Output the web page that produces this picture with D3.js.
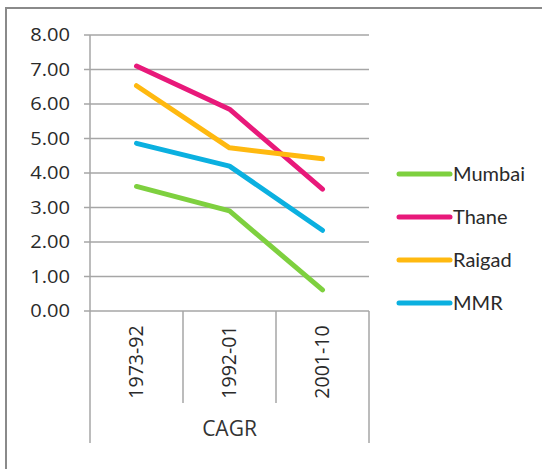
<!DOCTYPE html>
<html><head><meta charset="utf-8">
<script src="https://cdn.jsdelivr.net/npm/d3@7"></script>
<style>body{margin:0;background:#fff}</style>
</head><body>
<script>
const categories = ["1973-92", "1992-01", "2001-10"];
const groupLabel = "CAGR";
const seriesNames = ["Mumbai", "Thane", "Raigad", "MMR"];
const mumbai = [3.61, 2.90, 0.61];
const thane = [7.10, 5.85, 3.53];
const raigad = [6.53, 4.73, 4.41];
const mmr = [4.86, 4.20, 2.34];
const yTicks = [0, 1, 2, 3, 4, 5, 6, 7, 8];
const colors = ["#7ed03f", "#e8197a", "#ffb910", "#0bb0e0"];

(function () {
const series = [mumbai, thane, raigad, mmr].map((v, i) => ({name: seriesNames[i], values: v, color: colors[i]}));

const W = 542, H = 469;
const svg = d3.select("body").append("svg").attr("width", W).attr("height", H);
const font = "'Open Sans', sans-serif";

svg.append("rect").attr("x", 6).attr("y", 8).attr("width", 560).attr("height", 500)
  .attr("fill", "none").attr("stroke", "#8a8a8a").attr("stroke-width", 2);

const mLeft = 90, mRight = 369, mTop = 35, mBottom = 311;
const x = d3.scaleBand().domain(categories).range([mLeft, mRight]);
const y = d3.scaleLinear().domain([0, 8]).range([mBottom, mTop]);
const grid = "#a6a6a6";

svg.append("g").selectAll("line").data(yTicks).join("line")
  .attr("x1", mLeft - 6).attr("x2", mRight)
  .attr("y1", d => y(d)).attr("y2", d => y(d))
  .attr("stroke", grid).attr("stroke-width", 1.5);
svg.append("line").attr("x1", mLeft).attr("x2", mLeft).attr("y1", mTop).attr("y2", 443)
  .attr("stroke", grid).attr("stroke-width", 1.5);
svg.append("g").selectAll("text").data(yTicks).join("text")
  .attr("x", 70).attr("y", d => y(d)).attr("dy", "0.36em")
  .attr("text-anchor", "end").attr("font-family", font).attr("font-size", 17.5)
  .attr("fill", "#2a2a2a")
  .attr("transform", `translate(70,0) scale(1.15,1) translate(-70,0)`)
  .text(d => d.toFixed(2));

const seps = categories.map(c => x(c)).concat([mRight]);
svg.append("g").selectAll("line").data(seps.slice(1)).join("line")
  .attr("x1", d => d).attr("x2", d => d)
  .attr("y1", mBottom).attr("y2", (d, i) => i === seps.length - 2 ? 443 : 403)
  .attr("stroke", grid).attr("stroke-width", 1.5);

svg.append("g").selectAll("text").data(categories).join("text")
  .attr("transform", d => `translate(${x(d) + x.bandwidth() / 2 + 6},362) rotate(-90) scale(1.12,1.12)`)
  .attr("text-anchor", "middle").attr("font-family", font).attr("font-size", 17.5)
  .attr("fill", "#2a2a2a").text(d => d);

svg.append("text").attr("x", (mLeft + mRight) / 2).attr("y", 428).attr("dy", "0.36em")
  .attr("text-anchor", "middle").attr("font-family", font).attr("font-size", 21)
  .attr("fill", "#333").text(groupLabel);

const line = d3.line().x((d, i) => x(categories[i]) + x.bandwidth() / 2).y(d => y(d));
svg.append("g").selectAll("path").data(series).join("path")
  .attr("d", d => line(d.values)).attr("fill", "none")
  .attr("stroke", d => d.color).attr("stroke-width", 5)
  .attr("stroke-linecap", "round").attr("stroke-linejoin", "round");

const lg = svg.append("g").selectAll("g").data(series).join("g")
  .attr("transform", (d, i) => `translate(399,${174 + i * 43})`);
lg.append("line").attr("x1", 0).attr("x2", 51).attr("stroke", d => d.color)
  .attr("stroke-width", 5).attr("stroke-linecap", "round");
lg.append("text").attr("x", 54).attr("dy", "0.36em").attr("font-family", "Lato, sans-serif")
  .attr("font-size", 20).attr("fill", "#2a2a2a").text(d => d.name);
})();
</script>
</body></html>
